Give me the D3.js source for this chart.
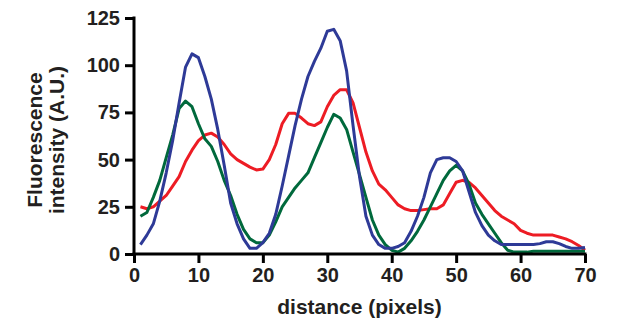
<!DOCTYPE html>
<html>
<head>
<meta charset="utf-8">
<script src="https://cdn.jsdelivr.net/npm/d3@7"></script>
<style>
  body { margin: 0; background: #fff; }
  svg text { font-family: "Liberation Sans", Arial, sans-serif; font-weight: bold; fill: #231f20; }
</style>
</head>
<body>
<div id="app"></div>
<script>
// ----- Data -----
const distance = d3.range(1, 71);

const blueValues = [5, 10, 16, 28, 43, 60, 80, 99, 106, 104,
    94, 82, 66, 47, 27, 16, 8, 3, 3, 6,
    11, 21, 36, 52, 68, 82, 94, 102, 109, 118,
    119, 113, 97, 68, 41, 20, 10, 5, 3, 3,
    4, 6, 12, 20, 30, 43, 50, 51, 51, 49,
    44, 33, 22, 15, 10, 7, 5, 5, 5, 5,
    5, 5, 5.5, 6.5, 6.5, 5.5, 4, 3, 3, 3.5];

const greenValues = [20, 22, 30, 39, 51, 63, 77, 81, 78, 69,
    61, 57, 49, 39, 31, 21, 13, 8, 6, 6,
    10, 17, 25, 30, 35, 39, 43, 51, 59, 67,
    74, 72, 66, 54, 42, 30, 18, 10, 5, 2,
    1, 3, 7, 12, 18, 25, 32, 39, 44, 47,
    44, 37, 27, 21, 16, 11, 6, 2, 1, 1,
    1, 1.5, 1.5, 1.5, 1.5, 1.5, 1.5, 1.5, 1.5, 1.5];

const redValues = [25, 24, 25, 28, 31, 36, 41, 49, 55, 60,
    63, 64, 62, 58, 53, 50, 48, 46, 44.5, 45,
    50, 58, 69, 74.5, 74.5, 72, 69, 68, 70, 78,
    84, 87, 87, 80, 67, 54, 44, 37, 34, 30,
    26, 24, 23, 23, 23.5, 24, 24, 26, 32, 38,
    39, 38, 35, 31, 27, 23, 20, 18, 16, 12.5,
    11, 10, 10, 10, 10, 9, 8, 6.5, 4.5, 2];

const xTicks = [0, 10, 20, 30, 40, 50, 60, 70];
const yTicks = [0, 25, 50, 75, 100, 125];

const series = [
    { name: "red", color: "#ed1c24", values: redValues },
    { name: "green", color: "#00693c", values: greenValues },
    { name: "blue", color: "#2e3a97", values: blueValues },
];

// ----- Chart -----
const width = 625, height = 322;
const plotLeft = 134, plotRight = 585, plotTop = 18, plotBottom = 254;

const svg = d3.select("#app").append("svg")
    .attr("width", width)
    .attr("height", height);

const xScale = d3.scaleLinear().domain([0, 70]).range([plotLeft, plotRight]);
const yScale = d3.scaleLinear().domain([0, 125]).range([plotBottom, plotTop]);

// lines
const line = d3.line()
    .x((d, i) => xScale(distance[i]))
    .y(d => yScale(d));

svg.selectAll("path.series")
    .data(series)
    .enter()
    .append("path")
        .attr("class", "series")
        .attr("d", d => line(d.values))
        .attr("fill", "none")
        .attr("stroke", d => d.color)
        .attr("stroke-width", 3)
        .attr("stroke-linejoin", "round");

// axes
const axisBottom = d3.axisBottom(xScale)
    .tickValues(xTicks)
    .tickSize(9)
    .tickPadding(5)
    .tickSizeOuter(0);

const axisLeft = d3.axisLeft(yScale)
    .tickValues(yTicks)
    .tickSize(9)
    .tickPadding(5)
    .tickSizeOuter(0);

const gx = svg.append("g")
    .attr("transform", `translate(0, ${plotBottom})`)
    .call(axisBottom);

const gy = svg.append("g")
    .attr("transform", `translate(${plotLeft}, 0)`)
    .call(axisLeft);

[gx, gy].forEach(g => {
    g.select(".domain").attr("stroke", "#000").attr("stroke-width", 3);
    g.selectAll(".tick line").attr("stroke", "#000").attr("stroke-width", 3);
    g.selectAll(".tick text")
        .attr("font-family", null)
        .attr("font-size", null)
        .style("font-size", "20px")
        .attr("fill", "#231f20");
});
// extend the domains so the corner is square
gx.select(".domain").attr("d", `M${plotLeft - 1.5},0H${plotRight + 1.5}`);
gy.select(".domain").attr("d", `M0,${plotTop - 1.5}V${plotBottom + 1.5}`);

// axis titles
svg.append("text")
    .attr("x", (plotLeft + plotRight) / 2)
    .attr("y", 314)
    .attr("text-anchor", "middle")
    .style("font-size", "21px")
    .text("distance (pixels)");

const ty = svg.append("text")
    .attr("transform", `translate(0, ${(plotTop + plotBottom) / 2 + 4}) rotate(-90)`)
    .attr("text-anchor", "middle")
    .style("font-size", "21px");
ty.append("tspan").attr("x", 0).attr("y", 42).text("Fluorescence");
ty.append("tspan").attr("x", 0).attr("y", 64).text("intensity (A.U.)");
</script>
</body>
</html>
